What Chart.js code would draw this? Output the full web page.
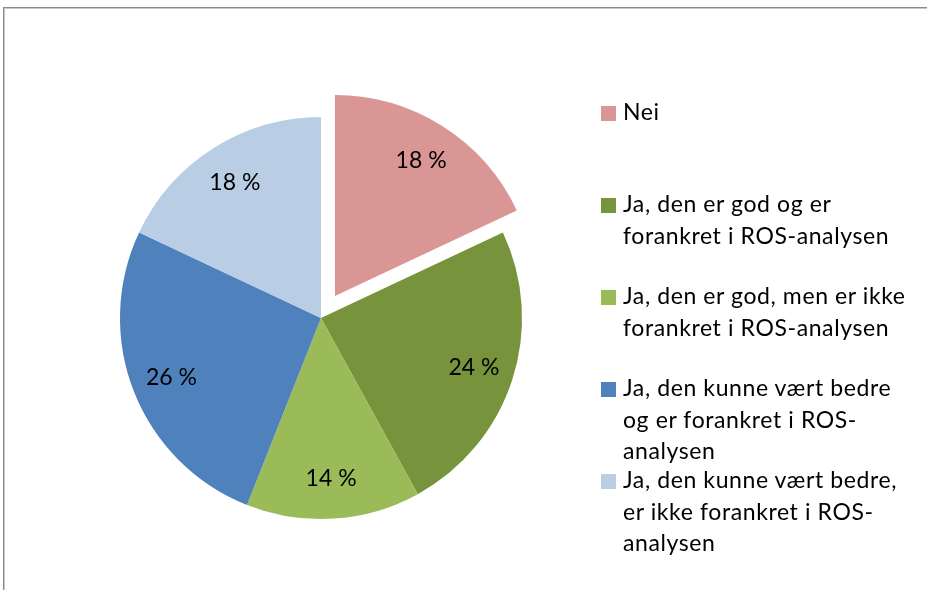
<!DOCTYPE html>
<html>
<head>
<meta charset="utf-8">
<script src="https://cdn.jsdelivr.net/npm/chart.js@4"></script>
<style>
  html, body { margin: 0; padding: 0; background: #fff; }
  body { width: 927px; height: 590px; position: relative; overflow: hidden; font-family: Lato, sans-serif; }
  #frame { position: absolute; left: 3px; top: 7px; width: 1000px; height: 700px; border: 1px solid #8a8a8a; box-shadow: inset 1px 1px 0 #c8c8c8; }
  #wrap { position: absolute; left: 0; top: 0; width: 927px; height: 590px; }
  #legend { position: absolute; left: 601px; top: 96px; }
  .item { height: 92px; position: relative; }
  .box { position: absolute; left: 0; top: 10px; width: 15px; height: 15px; }
  .txt { position: absolute; left: 22px; top: 0; font-size: 23px; letter-spacing: 0.6px; line-height: 31.5px; color: #000; white-space: nowrap; }
</style>
</head>
<body>
<div id="frame"></div>
<div id="wrap"><canvas id="pie" width="927" height="590"></canvas></div>
<div id="legend"></div>
<script>
// categories (legend lines as shown in the chart)
const categories = [
    ['Nei'],
    ['Ja, den er god og er', 'forankret i ROS-analysen'],
    ['Ja, den er god, men er ikke', 'forankret i ROS-analysen'],
    ['Ja, den kunne vært bedre', 'og er forankret i ROS-', 'analysen'],
    ['Ja, den kunne vært bedre,', 'er ikke forankret i ROS-', 'analysen']
];
const values = [18, 24, 14, 26, 18];
const colors = ['#D99694', '#77933C', '#9BBB59', '#4F81BD', '#B9CDE5'];
const explode = [26, 0, 0, 0, 0];

// pulls a slice out from the centre
const explodePlugin = {
    id: 'explode',
    afterUpdate(chart, args, opts) {
        const meta = chart.getDatasetMeta(0);
        meta.data.forEach((arc, i) => {
            const d = opts.distances[i] || 0;
            if (!d || arc._exploded) return;
            const orig = arc.draw;
            arc.draw = function (ctx) {
                const mid = (this.startAngle + this.endAngle) / 2;
                ctx.save();
                ctx.translate(Math.cos(mid) * d, Math.sin(mid) * d);
                orig.call(this, ctx);
                ctx.restore();
            };
            arc._exploded = true;
        });
    }
};

// "18 %" labels inside the slices
const sliceLabels = {
    id: 'sliceLabels',
    afterDatasetsDraw(chart, args, opts) {
        const { ctx } = chart;
        const meta = chart.getDatasetMeta(0);
        const data = chart.data.datasets[0].data;
        ctx.save();
        ctx.font = opts.font;
        ctx.fillStyle = opts.color;
        ctx.textAlign = 'center';
        ctx.textBaseline = 'middle';
        meta.data.forEach((arc, i) => {
            const mid = (arc.startAngle + arc.endAngle) / 2;
            const d = (explode[i] || 0) + arc.outerRadius * opts.pos;
            ctx.fillText(data[i] + ' %', arc.x + Math.cos(mid) * d, arc.y + Math.sin(mid) * d);
        });
        ctx.restore();
    }
};

new Chart(document.getElementById('pie'), {
    type: 'pie',
    data: {
        labels: categories.map(c => c.join(' ')),
        datasets: [{
            data: values,
            backgroundColor: colors,
            borderWidth: 0
        }]
    },
    options: {
        responsive: false,
        animation: false,
        radius: 201,
        layout: { padding: { left: 0, right: 285, top: 46, bottom: 0 } },
        plugins: {
            legend: { display: false },
            tooltip: { enabled: false },
            explode: { distances: explode },
            sliceLabels: { font: '23px Lato', color: '#000', pos: 0.8 }
        }
    },
    plugins: [explodePlugin, sliceLabels]
});

// legend on the right
const legendEl = document.getElementById('legend');
categories.forEach((lines, i) => {
    const item = document.createElement('div');
    item.className = 'item';
    const box = document.createElement('div');
    box.className = 'box';
    box.style.background = colors[i];
    const txt = document.createElement('div');
    txt.className = 'txt';
    txt.innerHTML = lines.join('<br>');
    item.appendChild(box);
    item.appendChild(txt);
    legendEl.appendChild(item);
});
</script>
</body>
</html>
